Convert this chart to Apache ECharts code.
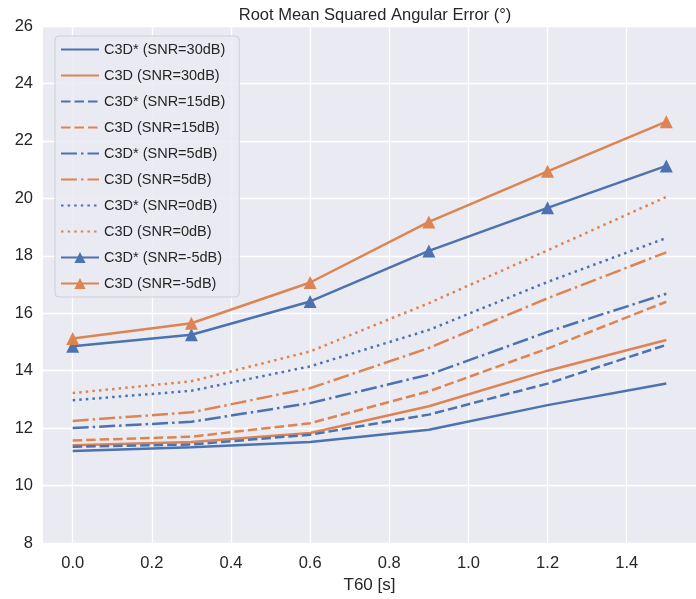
<!DOCTYPE html>
<html>
<head>
<meta charset="utf-8">
<script src="https://cdn.jsdelivr.net/npm/echarts@6/dist/echarts.min.js"></script>
<style>
  html, body { margin: 0; padding: 0; background: #fff; }
  #main { width: 696px; height: 599px; }
</style>
</head>
<body>
<div id="main"></div>
<script>
// T60 values (x axis)
var t60 = [0, 0.3, 0.6, 0.9, 1.2, 1.5];
var xTicks = [0, 0.2, 0.4, 0.6, 0.8, 1.0, 1.2, 1.4];

// RMS angular error per setting
var c3dStar30 = [11.2, 11.33, 11.52, 11.94, 12.8, 13.55];
var c3d30 = [11.4, 11.52, 11.83, 12.76, 14.0, 15.07];
var c3dStar15 = [11.35, 11.43, 11.77, 12.47, 13.55, 14.9];
var c3d15 = [11.57, 11.7, 12.17, 13.28, 14.77, 16.4];
var c3dStar5 = [12.0, 12.22, 12.87, 13.86, 15.35, 16.68];
var c3d5 = [12.25, 12.55, 13.39, 14.79, 16.52, 18.12];
var c3dStar0 = [12.97, 13.3, 14.15, 15.42, 17.09, 18.62];
var c3d0 = [13.22, 13.63, 14.67, 16.35, 18.19, 20.05];
var c3dStarM5 = [14.85, 15.25, 16.41, 18.17, 19.67, 21.13];
var c3dM5 = [15.12, 15.65, 17.07, 19.18, 20.94, 22.67];

var BLUE = '#4C72B0', ORANGE = '#DD8452';
var LW = 2.5;
var DASHED = [9.5, 4];
var DASHDOT = [16, 4, 2.5, 4];
var DOTTED = [2.5, 4.1];

function pairs(vals) {
    return t60.map(function (x, i) { return [x, vals[i]]; });
}

function mkSeries(name, vals, color, dash, marker) {
    return {
        name: name,
        type: 'line',
        data: pairs(vals),
        symbol: marker ? 'triangle' : 'none',
        symbolSize: 13,
        showSymbol: !!marker,
        lineStyle: { color: color, width: LW, type: dash || 'solid', cap: 'butt' },
        itemStyle: { color: color },
        emphasis: { disabled: true },
        animation: false
    };
}

var seriesList = [
    mkSeries('C3D* (SNR=30dB)', c3dStar30, BLUE),
    mkSeries('C3D (SNR=30dB)', c3d30, ORANGE),
    mkSeries('C3D* (SNR=15dB)', c3dStar15, BLUE, DASHED),
    mkSeries('C3D (SNR=15dB)', c3d15, ORANGE, DASHED),
    mkSeries('C3D* (SNR=5dB)', c3dStar5, BLUE, DASHDOT),
    mkSeries('C3D (SNR=5dB)', c3d5, ORANGE, DASHDOT),
    mkSeries('C3D* (SNR=0dB)', c3dStar0, BLUE, DOTTED),
    mkSeries('C3D (SNR=0dB)', c3d0, ORANGE, DOTTED),
    mkSeries('C3D* (SNR=-5dB)', c3dStarM5, BLUE, null, true),
    mkSeries('C3D (SNR=-5dB)', c3dM5, ORANGE, null, true)
];

// legend entries: hide the default circle for series without markers
var legendData = seriesList.map(function (s) {
    var item = { name: s.name };
    if (s.symbol === 'none') item.itemStyle = { opacity: 0 };
    return item;
});

var FONT = 'Liberation Sans';
var myChart = echarts.init(document.getElementById('main'));

var option = {
    backgroundColor: '#ffffff',
    animation: false,
    title: {
        text: 'Root Mean Squared Angular Error (°)',
        left: 370, top: 2, textAlign: 'center',
        textStyle: { fontFamily: FONT, fontSize: 16.5, fontWeight: 'normal', color: '#262626' }
    },
    grid: { left: 43, top: 26, width: 665, height: 517, show: true, backgroundColor: '#EAEAF2', borderWidth: 0 },
    legend: {
        orient: 'vertical',
        left: 55, top: 36,
        itemWidth: 38, itemHeight: 14, itemGap: 11,
        padding: [6, 14, 6, 5],
        backgroundColor: 'rgba(234,234,242,0.85)',
        borderColor: '#cfcfd6', borderWidth: 1, borderRadius: 4,
        textStyle: { fontFamily: FONT, fontSize: 14.5, color: '#262626' },
        data: legendData
    },
    xAxis: {
        type: 'value',
        min: -0.075, max: 1.575,
        name: 'T60 [s]', nameLocation: 'middle', nameGap: 34,
        nameTextStyle: { fontFamily: FONT, fontSize: 17, color: '#262626' },
        axisLine: { show: false },
        axisTick: { show: false, customValues: xTicks },
        axisLabel: {
            customValues: xTicks, margin: 12,
            fontFamily: FONT, fontSize: 16.5, color: '#262626',
            formatter: function (v) { return v.toFixed(1); }
        },
        splitLine: { show: true, lineStyle: { color: '#ffffff', width: 1.3 } }
    },
    yAxis: {
        type: 'value',
        min: 8, max: 26, interval: 2,
        axisLine: { show: false },
        axisTick: { show: false },
        axisLabel: { margin: 10, fontFamily: FONT, fontSize: 16.5, color: '#262626' },
        splitLine: { show: true, lineStyle: { color: '#ffffff', width: 1.3 } }
    },
    series: seriesList
};

myChart.setOption(option);
</script>
</body>
</html>
